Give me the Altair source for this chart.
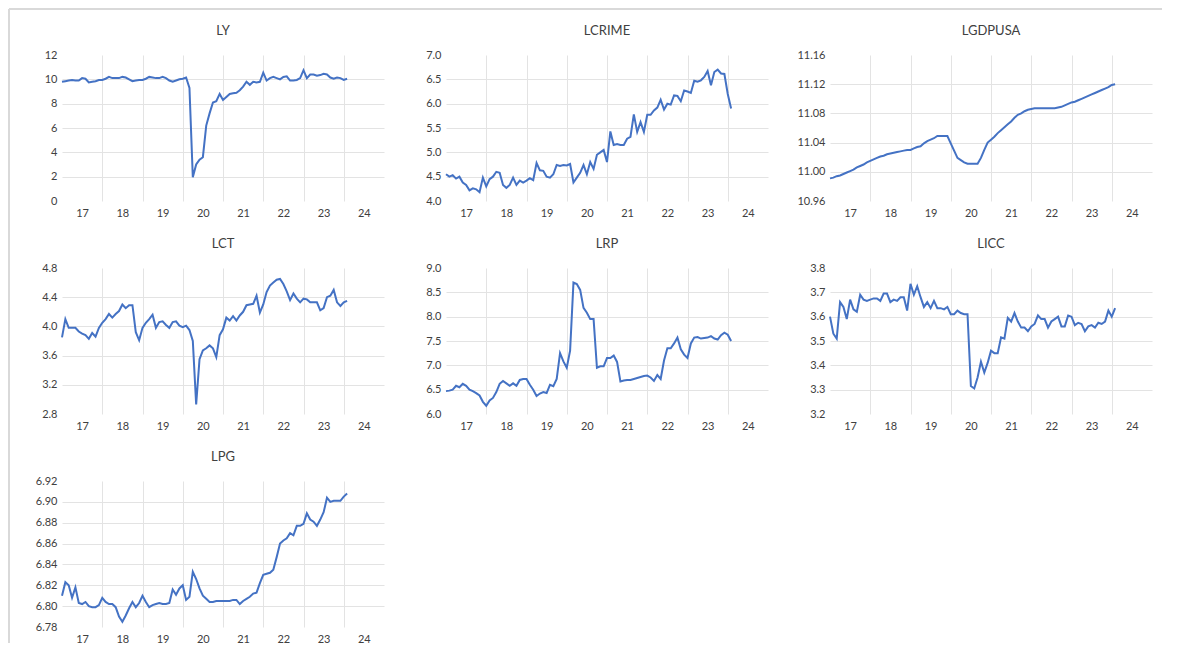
import altair as alt
import pandas as pd

# ---- data (monthly, Jan-2017 .. Feb-2024) ----
START_YEAR = 2017
YEAR_TICKS = [2017, 2018, 2019, 2020, 2021, 2022, 2023, 2024]

LY = [9.8, 9.85, 9.9, 9.95, 9.9, 9.9, 10.1, 10.05, 9.75, 9.8, 9.85, 9.95,
      9.95, 10.05, 10.2, 10.1, 10.1, 10.1, 10.2, 10.15, 10.0, 9.85, 9.9, 9.95,
      9.95, 10.05, 10.2, 10.15, 10.1, 10.1, 10.2, 10.1, 9.9, 9.8, 9.9, 10.0,
      10.05, 10.15, 9.3, 1.95, 3.0, 3.4, 3.6, 6.2, 7.2, 8.1, 8.2, 8.8,
      8.3, 8.55, 8.8, 8.85, 8.9, 9.1, 9.4, 9.8, 9.55, 9.8, 9.75, 9.8,
      10.55, 9.9, 10.1, 10.2, 10.1, 10.0, 10.2, 10.25, 9.9, 9.9, 9.95, 10.1,
      10.75, 10.1, 10.4, 10.4, 10.3, 10.35, 10.45, 10.4, 10.15, 10.05, 10.15, 10.1,
      9.95, 10.05]

LCRIME = [4.55, 4.5, 4.53, 4.46, 4.5, 4.38, 4.33, 4.22, 4.26, 4.24, 4.18, 4.48,
          4.3, 4.45, 4.5, 4.6, 4.58, 4.33, 4.27, 4.33, 4.48, 4.33, 4.42, 4.38,
          4.42, 4.47, 4.43, 4.78, 4.63, 4.62, 4.5, 4.48, 4.55, 4.74, 4.72, 4.74,
          4.73, 4.76, 4.38, 4.48, 4.58, 4.74, 4.55, 4.8, 4.66, 4.95, 5.0, 5.05,
          4.8, 5.43, 5.15, 5.17, 5.15, 5.15, 5.28, 5.32, 5.78, 5.42, 5.62, 5.42,
          5.77, 5.77, 5.86, 5.92, 6.08, 5.88, 6.0, 5.98, 6.17, 6.16, 6.05, 6.27,
          6.25, 6.22, 6.47, 6.45, 6.48, 6.55, 6.67, 6.38, 6.65, 6.7, 6.62, 6.61,
          6.2, 5.9]

LGDPUSA = [10.991, 10.992, 10.994, 10.995, 10.997, 10.999, 11.001, 11.003, 11.006, 11.008, 11.010, 11.013,
           11.015, 11.017, 11.019, 11.021, 11.022, 11.024, 11.025, 11.026, 11.027, 11.028, 11.029, 11.030,
           11.030, 11.032, 11.034, 11.035, 11.039, 11.042, 11.044, 11.046, 11.049, 11.049, 11.049, 11.049,
           11.039, 11.029, 11.019, 11.016, 11.013, 11.011, 11.011, 11.011, 11.011, 11.019, 11.030, 11.040,
           11.044, 11.048, 11.053, 11.057, 11.061, 11.065, 11.069, 11.074, 11.078, 11.080, 11.083, 11.085,
           11.086, 11.087, 11.087, 11.087, 11.087, 11.087, 11.087, 11.087, 11.088, 11.089, 11.091, 11.093,
           11.095, 11.096, 11.098, 11.100, 11.102, 11.104, 11.106, 11.108, 11.110, 11.112, 11.114, 11.116,
           11.119, 11.120]

LCT = [3.85, 4.1, 3.98, 3.98, 3.98, 3.93, 3.9, 3.88, 3.83, 3.91, 3.86, 3.98,
       4.05, 4.1, 4.17, 4.12, 4.17, 4.21, 4.3, 4.25, 4.29, 4.29, 3.92, 3.81,
       3.98, 4.05, 4.1, 4.16, 3.98, 4.06, 4.07, 4.02, 3.98, 4.06, 4.07, 4.01,
       3.99, 4.01, 3.95, 3.8, 2.93, 3.55, 3.67, 3.7, 3.74, 3.7, 3.58, 3.88,
       3.96, 4.12, 4.08, 4.14, 4.08, 4.15, 4.2, 4.29, 4.3, 4.31, 4.42, 4.19,
       4.3, 4.47, 4.56, 4.6, 4.64, 4.65, 4.58, 4.48, 4.36, 4.45, 4.38, 4.33,
       4.38, 4.37, 4.33, 4.33, 4.33, 4.22, 4.25, 4.4, 4.42, 4.5, 4.33, 4.28,
       4.33, 4.35]

LRP = [6.47, 6.48, 6.5, 6.58, 6.55, 6.62, 6.58, 6.5, 6.47, 6.43, 6.38, 6.25,
       6.17, 6.28, 6.33, 6.45, 6.62, 6.68, 6.63, 6.58, 6.63, 6.58, 6.7, 6.72,
       6.72, 6.6, 6.5, 6.37, 6.42, 6.45, 6.43, 6.6, 6.57, 6.72, 7.25, 7.08,
       6.95, 7.3, 8.7, 8.67, 8.55, 8.18, 8.08, 7.95, 7.95, 6.95, 6.98, 6.98,
       7.15, 7.15, 7.2, 7.07, 6.67, 6.69, 6.7, 6.7, 6.72, 6.74, 6.76, 6.78,
       6.79, 6.75, 6.68, 6.8, 6.72, 7.1, 7.35, 7.35, 7.45, 7.57, 7.33, 7.22,
       7.15, 7.45, 7.57, 7.58, 7.55, 7.56, 7.57, 7.6, 7.55, 7.53, 7.62, 7.67,
       7.63, 7.5]

LICC = [3.6, 3.53, 3.51, 3.66, 3.64, 3.59, 3.67, 3.63, 3.62, 3.69, 3.67, 3.665,
        3.67, 3.675, 3.675, 3.665, 3.695, 3.695, 3.66, 3.67, 3.665, 3.68, 3.68, 3.625,
        3.735, 3.69, 3.725, 3.68, 3.64, 3.66, 3.635, 3.665, 3.635, 3.635, 3.63, 3.64,
        3.61, 3.61, 3.625, 3.615, 3.61, 3.61, 3.315, 3.305, 3.35, 3.415, 3.37, 3.41,
        3.46, 3.45, 3.45, 3.515, 3.51, 3.595, 3.58, 3.615, 3.58, 3.555, 3.555, 3.54,
        3.56, 3.57, 3.605, 3.59, 3.59, 3.555, 3.58, 3.59, 3.6, 3.56, 3.56, 3.605,
        3.6, 3.565, 3.575, 3.57, 3.54, 3.56, 3.565, 3.555, 3.575, 3.57, 3.58, 3.625,
        3.6, 3.635]

LPG = [6.81, 6.823, 6.82, 6.808, 6.818, 6.803, 6.802, 6.804, 6.8, 6.799, 6.799, 6.801,
       6.808, 6.804, 6.802, 6.802, 6.799, 6.79, 6.785, 6.791, 6.798, 6.804, 6.799, 6.803,
       6.81, 6.804, 6.799, 6.801, 6.802, 6.803, 6.802, 6.802, 6.803, 6.816, 6.811, 6.817,
       6.82, 6.806, 6.809, 6.833, 6.826, 6.817, 6.81, 6.807, 6.804, 6.804, 6.805, 6.805,
       6.805, 6.805, 6.805, 6.806, 6.806, 6.802, 6.805, 6.807, 6.809, 6.812, 6.813, 6.822,
       6.83, 6.831, 6.832, 6.835, 6.847, 6.86, 6.863, 6.865, 6.87, 6.868, 6.877, 6.877,
       6.879, 6.889, 6.883, 6.881, 6.877, 6.883, 6.89, 6.904, 6.9, 6.901, 6.901, 6.901,
       6.905, 6.908]

PANELS = [
    ("LY", LY, [0, 2, 4, 6, 8, 10, 12], ".0f"),
    ("LCRIME", LCRIME, [4.0, 4.5, 5.0, 5.5, 6.0, 6.5, 7.0], ".1f"),
    ("LGDPUSA", LGDPUSA, [10.96, 11.00, 11.04, 11.08, 11.12, 11.16], ".2f"),
    ("LCT", LCT, [2.8, 3.2, 3.6, 4.0, 4.4, 4.8], ".1f"),
    ("LRP", LRP, [6.0, 6.5, 7.0, 7.5, 8.0, 8.5, 9.0], ".1f"),
    ("LICC", LICC, [3.2, 3.3, 3.4, 3.5, 3.6, 3.7, 3.8], ".1f"),
    ("LPG", LPG, [6.78, 6.80, 6.82, 6.84, 6.86, 6.88, 6.90, 6.92], ".2f"),
]

# ---- style ----
W, H = 322, 146
LINE_COLOR = "#4472C4"
GRID = "#e3e3e3"
FONT = "Lato"
TEXT = "#404040"


def panel(name, values, yticks, fmt, frame=False):
    df = pd.DataFrame({"t": [START_YEAR + i / 12 for i in range(len(values))],
                       "v": values})
    lo, hi = yticks[0], yticks[-1]
    eps = (hi - lo) * 1e-6
    line = alt.Chart(df).mark_line(color=LINE_COLOR, strokeWidth=2).encode(
        x=alt.X("t:Q",
                scale=alt.Scale(domain=[2017, 2025], nice=False, zero=False),
                axis=alt.Axis(values=YEAR_TICKS,
                              labelExpr="format(datum.value - 2000, 'd')",
                              labelOffset=20, labelFlush=False, labelOverlap=False,
                              domain=False, ticks=False, grid=True, gridColor=GRID,
                              gridOpacity={"condition": {"test": "datum.value < 2017.5", "value": 0},
                                           "value": 1},
                              labelPadding=6, labelFont=FONT, labelFontSize=11,
                              labelColor=TEXT, title=None)),
        y=alt.Y("v:Q",
                scale=alt.Scale(domain=[lo, hi], nice=False, zero=False),
                axis=alt.Axis(values=yticks, format=fmt,
                              domain=False, ticks=False, grid=True, gridColor=GRID,
                              gridOpacity={"condition": {"test": f"datum.value <= {lo + eps} || datum.value >= {hi - eps}",
                                                         "value": 0},
                                           "value": 1},
                              labelPadding=5, labelFont=FONT, labelFontSize=11,
                              labelColor=TEXT, title=None)),
    )
    one = pd.DataFrame({"name": [name]})
    title = alt.Chart(one).mark_text(font=FONT, fontSize=13, color=TEXT,
                                     align="center", baseline="alphabetic").encode(
        text="name:N", x=alt.value(W / 2), y=alt.value(-20))
    layers = [line, title]
    if frame:
        top = alt.Chart(one).mark_rule(color="#d9d9d9", strokeWidth=2).encode(
            x=alt.value(-53), x2=alt.value(1100), y=alt.value(-46))
        left = alt.Chart(one).mark_rule(color="#d9d9d9", strokeWidth=2).encode(
            x=alt.value(-53), y=alt.value(-46), y2=alt.value(588))
        layers += [top, left]
    return alt.layer(*layers).properties(width=W, height=H)


charts = [panel(n, v, t, f, frame=(i == 0)) for i, (n, v, t, f) in enumerate(PANELS)]

chart = alt.concat(*charts, columns=3, spacing={"row": 67, "column": 62},
                   bounds="flush").properties(padding=0).configure_view(strokeWidth=0)

chart.save("out.html", embed_options={"renderer": "svg", "actions": False})
